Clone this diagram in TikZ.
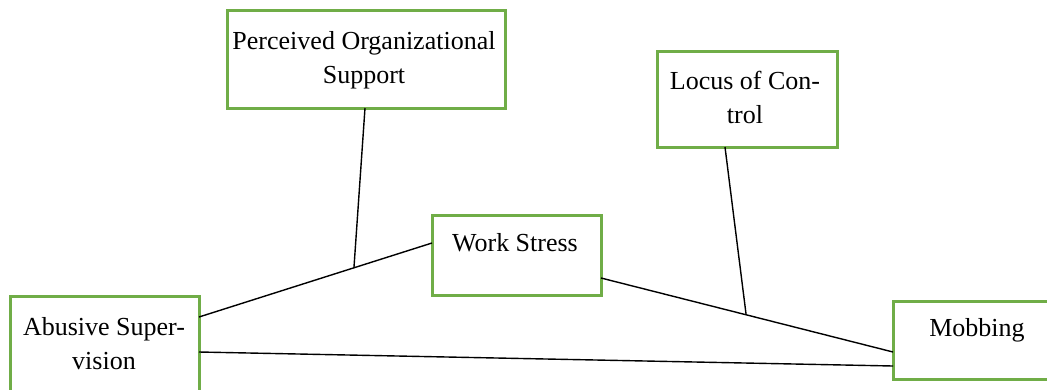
\documentclass[tikz,border=0pt]{standalone}
\usepackage{fontspec}
\setmainfont{Liberation Serif}
\usetikzlibrary{calc}
\definecolor{boxgreen}{RGB}{112,173,71}
\begin{document}
\begin{tikzpicture}[x=1pt,y=-1pt,
  box/.style={draw=boxgreen,line width=3pt,fill=white,rectangle,inner sep=0pt,outer sep=0pt,anchor=north west},
  txt/.style={font=\fontsize{26}{34}\selectfont,align=center,inner sep=0pt,text=black},
  link/.style={draw=black,line width=1.4pt}]
\useasboundingbox (0,0) rectangle (1047,389);
\clip (0,0) rectangle (1047,389);
\fill[white] (0,0) rectangle (1047,389);
% boxes
\node[box,minimum width=189pt,minimum height=105pt] (abs) at (10,296) {};
\node[box,minimum width=278pt,minimum height=98pt] (pos) at (227,10) {};
\node[box,minimum width=180pt,minimum height=96pt] (loc) at (657,51) {};
\node[box,minimum width=169pt,minimum height=80pt] (ws) at (432,215) {};
\node[box,minimum width=175pt,minimum height=78pt] (mob) at (893,301) {};
% texts
\node[txt] (abst) at (104,344) {Abusive Super-\\vision};
\node[txt] (post) at (364,60) {Perceived Organizational\\Support};
\node[txt] (loct) at (745,97) {Locus of Con-\\trol};
\node[txt] (wst) at (515,243) {Work Stress};
\node[txt] (mobt) at (977,330) {Mobbing};
% connector end points
\coordinate (absA) at ($(abs.north east)+(0,21)$);
\coordinate (absB) at ($(abs.north east)+(0,56)$);
\coordinate (wsL) at ($(ws.north west)+(0,28)$);
\coordinate (wsR) at ($(ws.north east)+(0,63)$);
\coordinate (mobA) at ($(mob.north west)+(0,51)$);
\coordinate (mobB) at ($(mob.north west)+(0,65)$);
\coordinate (posB) at ($(pos.south west)+(138,0)$);
\coordinate (locB) at ($(loc.south west)+(68,0)$);
\coordinate (m1) at ($(absA)!0.665!(wsL)$);
\coordinate (m2) at ($(wsR)!0.497!(mobA)$);
% connectors
\draw[link] (absA) -- (wsL);
\draw[link] (wsR) -- (mobA);
\draw[link] (absB) -- (mobB);
\draw[link] (posB) -- (m1);
\draw[link] (locB) -- (m2);
\end{tikzpicture}
\end{document}
